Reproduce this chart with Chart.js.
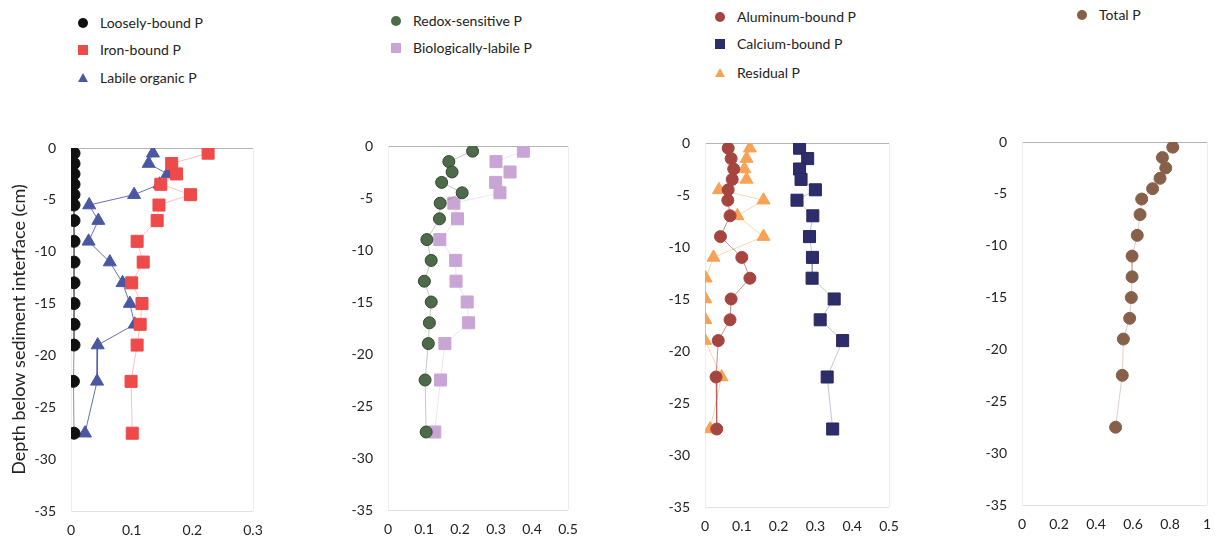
<!DOCTYPE html>
<html>
<head>
<meta charset="utf-8">
<script src="https://cdn.jsdelivr.net/npm/chart.js@4.4.1/dist/chart.umd.min.js"></script>
<style>
  body { margin: 0; width: 1221px; height: 551px; background: #fff; position: relative; overflow: hidden; font-family: Lato, "Open Sans", sans-serif; }
  canvas { position: absolute; }
  .lg-text { position: absolute; font-size: 14px; color: #222; white-space: nowrap; line-height: 18px; }
  .lg-mark { position: absolute; }
</style>
</head>
<body>
<canvas id="p1"></canvas>
<canvas id="p2"></canvas>
<canvas id="p3"></canvas>
<canvas id="p4"></canvas>
<script>
// depth of each sediment slice (cm below interface)
const depth = [-0.5, -1.5, -2.5, -3.5, -4.5, -5.5, -7, -9, -11, -13, -15, -17, -19, -22.5, -27.5];

// P fractions
const looselyBound  = [0.005, 0.005, 0.005, 0.005, 0.005, 0.005, 0.005, 0.005, 0.005, 0.005, 0.005, 0.005, 0.005, 0.004, 0.005];
const ironBound     = [0.226, 0.166, 0.174, 0.148, 0.197, 0.145, 0.142, 0.109, 0.119, 0.100, 0.117, 0.114, 0.109, 0.099, 0.101];
const labileOrganic = [0.135, 0.128, 0.159, 0.146, 0.104, 0.030, 0.045, 0.029, 0.064, 0.085, 0.097, 0.105, 0.044, 0.043, 0.023];

const redoxSensitive = [0.235, 0.169, 0.178, 0.149, 0.206, 0.145, 0.143, 0.108, 0.120, 0.101, 0.120, 0.115, 0.112, 0.103, 0.106];
const bioLabile      = [0.376, 0.300, 0.339, 0.299, 0.311, 0.183, 0.193, 0.144, 0.188, 0.189, 0.220, 0.224, 0.158, 0.146, 0.130];

const aluminumBound = [0.063, 0.071, 0.078, 0.074, 0.063, 0.062, 0.068, 0.042, 0.100, 0.122, 0.071, 0.068, 0.036, 0.030, 0.032];
const calciumBound  = [0.257, 0.279, 0.257, 0.261, 0.300, 0.250, 0.293, 0.284, 0.292, 0.291, 0.351, 0.313, 0.374, 0.332, 0.347];
const residual      = [0.122, 0.113, 0.107, 0.113, 0.038, 0.159, 0.088, 0.159, 0.023, 0.002, 0.001, 0.001, 0.000, 0.045, 0.014];

const totalP = [0.815, 0.759, 0.777, 0.746, 0.706, 0.647, 0.638, 0.623, 0.595, 0.595, 0.591, 0.582, 0.548, 0.542, 0.506];

// axis ranges [min, max, step]
const yRange = [-35, 0, 5];
const xRange1 = [0, 0.3, 0.1];
const xRange2 = [0, 0.5, 0.1];
const xRange3 = [0, 0.5, 0.1];
const xRange4 = [0, 1, 0.2];

const yTitle = 'Depth below sediment interface (cm)';

function pts(values) {
  return values.map((v, i) => ({ x: v, y: depth[i] }));
}

function series(label, values, style, color, lineColor, radius, edge) {
  return {
    label: label,
    data: pts(values),
    showLine: true,
    borderColor: lineColor,
    borderWidth: 1,
    pointStyle: style,
    pointRadius: radius,
    pointHoverRadius: radius,
    pointBackgroundColor: color,
    pointBorderColor: edge || color,
    pointBorderWidth: 1
  };
}

const panels = [
  {
    id: 'p1', left: 71, top: 148, right: 253, bottom: 511, axisW: 71, xr: xRange1, title: true,
    legend: { mx: 83, tx: 100, rows: [23, 50, 78] },
    sets: [
      series('Loosely-bound P', looselyBound, 'circle', '#111111', 'rgba(40,40,40,0.5)', 6),
      series('Iron-bound P', ironBound, 'rect', '#ee4a4a', 'rgba(238,74,74,0.35)', 8.5),
      series('Labile organic P', labileOrganic, 'triangle', '#4a58a4', 'rgba(74,88,164,0.85)', 7.5)
    ]
  },
  {
    id: 'p2', left: 388, top: 146, right: 568, bottom: 510, axisW: 60, xr: xRange2,
    legend: { mx: 396, tx: 413, rows: [21, 48] },
    sets: [
      series('Redox-sensitive P', redoxSensitive, 'circle', '#4d6b49', 'rgba(60,80,60,0.3)', 6, '#34472f'),
      series('Biologically-labile P', bioLabile, 'rect', '#c9a5d5', 'rgba(201,165,213,0.3)', 8.5)
    ]
  },
  {
    id: 'p3', left: 705, top: 143, right: 889, bottom: 507, axisW: 60, xr: xRange3,
    legend: { mx: 720, tx: 737, rows: [17, 44, 73] },
    sets: [
      series('Aluminum-bound P', aluminumBound, 'circle', '#a54540', 'rgba(170,70,60,0.6)', 6),
      series('Calcium-bound P', calciumBound, 'rect', '#2e2d6c', 'rgba(60,60,120,0.3)', 8.5, '#28285a'),
      series('Residual P', residual, 'triangle', '#f8a255', 'rgba(248,162,85,0.45)', 7.5)
    ]
  },
  {
    id: 'p4', left: 1022, top: 142, right: 1207, bottom: 505, axisW: 60, xr: xRange4,
    legend: { mx: 1082, tx: 1099, rows: [15] },
    sets: [
      series('Total P', totalP, 'circle', '#87604a', 'rgba(135,96,74,0.3)', 6)
    ]
  }
];

const tickFont = { family: 'Lato, "Open Sans", sans-serif', size: 14 };
const fmt = v => String(+Number(v).toFixed(2));

panels.forEach(p => {
  const padTop = 14, padRight = 16, axisH = 36;
  const cv = document.getElementById(p.id);
  const w = (p.right - p.left) + p.axisW + padRight;
  const h = (p.bottom - p.top) + padTop + axisH;
  cv.style.left = (p.left - p.axisW) + 'px';
  cv.style.top = (p.top - padTop) + 'px';
  cv.style.width = w + 'px';
  cv.style.height = h + 'px';
  cv.width = w;
  cv.height = h;

  new Chart(cv, {
    type: 'scatter',
    data: { datasets: p.sets },
    options: {
      responsive: false,
      animation: false,
      layout: { padding: { top: padTop, right: padRight, left: 0, bottom: 0 } },
      plugins: { legend: { display: false }, tooltip: { enabled: false } },
      scales: {
        x: {
          type: 'linear',
          min: p.xr[0], max: p.xr[1],
          afterFit: s => { s.height = axisH; s.paddingLeft = 0; s.paddingRight = 0; },
          ticks: { stepSize: p.xr[2], color: '#222', font: tickFont, padding: 11, callback: fmt },
          grid: {
            drawTicks: false,
            color: c => c.tick.value === p.xr[1] ? '#ececec' : 'rgba(0,0,0,0)'
          },
          border: { display: false }
        },
        y: {
          type: 'linear',
          min: yRange[0], max: yRange[1],
          afterFit: s => { s.width = p.axisW; s.paddingTop = 0; s.paddingBottom = 0; },
          ticks: { stepSize: yRange[2], color: '#222', font: tickFont, padding: 15, callback: fmt },
          grid: {
            drawTicks: false,
            color: c => c.tick.value === 0 ? '#b4b4b4' : (c.tick.value === yRange[0] ? '#e2e2e2' : 'rgba(0,0,0,0)')
          },
          border: { display: true, color: '#eeeeee' },
          title: {
            display: !!p.title,
            text: yTitle,
            color: '#222',
            font: { family: 'Lato, "Open Sans", sans-serif', size: 18 },
            padding: { top: 8, bottom: 0 }
          }
        }
      }
    }
  });

  // legend, stacked one entry per row like the original figure
  p.sets.forEach((s, i) => {
    const y = p.legend.rows[i];
    const m = document.createElement('div');
    m.className = 'lg-mark';
    const c = s.pointBackgroundColor;
    if (s.pointStyle === 'circle') {
      Object.assign(m.style, { left: (p.legend.mx - 5) + 'px', top: (y - 5) + 'px', width: '10px', height: '10px', borderRadius: '50%', background: c });
    } else if (s.pointStyle === 'rect') {
      Object.assign(m.style, { left: (p.legend.mx - 5) + 'px', top: (y - 5) + 'px', width: '10px', height: '10px', background: c });
    } else {
      Object.assign(m.style, { left: (p.legend.mx - 5) + 'px', top: (y - 5) + 'px', width: '10px', height: '9px', background: c, clipPath: 'polygon(50% 0, 100% 100%, 0 100%)' });
    }
    document.body.appendChild(m);
    const t = document.createElement('div');
    t.className = 'lg-text';
    t.textContent = s.label;
    t.style.left = p.legend.tx + 'px';
    t.style.top = (y - 9) + 'px';
    document.body.appendChild(t);
  });
});
</script>
</body>
</html>
